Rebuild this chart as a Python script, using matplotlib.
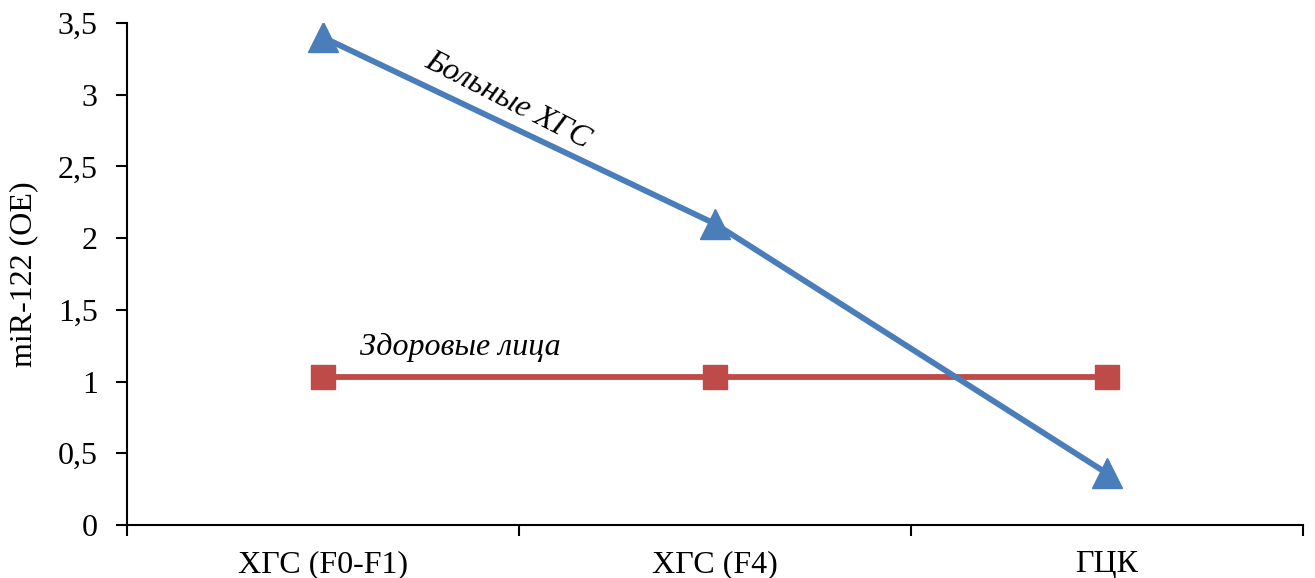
import matplotlib.pyplot as plt
import numpy as np

categories = ['ХГС (F0-F1)', 'ХГС (F4)', 'ГЦК']
patients = [3.4, 2.1, 0.36]
healthy = [1.03, 1.03, 1.03]
yticks = [0, 0.5, 1, 1.5, 2, 2.5, 3, 3.5]

plt.rcParams['font.family'] = ['Liberation Serif', 'DejaVu Serif']

fig = plt.figure(figsize=(13.15, 5.78), dpi=100)
ax = fig.add_axes([0.0966, 0.0917, 0.8943, 0.8685])

x = np.arange(len(categories))
ax.plot(x, healthy, color='#BE4B48', lw=4.2, marker='s', markersize=17, zorder=2)
ax.plot(x, patients, color='#4A7EBB', lw=4.2, marker='^', markersize=22, zorder=3)

ax.set_xlim(-0.5, 2.5)
ax.set_ylim(0, 3.5)
ax.set_yticks(yticks)
ax.set_yticklabels([str(v).replace('.', ',') if v % 1 else str(int(v)) for v in yticks])
ax.set_xticks(x)
ax.set_xticklabels(categories)
ax.set_xticks([-0.5, 0.5, 1.5, 2.5], minor=True)
ax.tick_params(axis='x', which='major', length=0, pad=18, labelsize=23)
ax.tick_params(axis='x', which='minor', length=8, width=1.5, direction='out')
ax.tick_params(axis='y', length=8, width=1.5, labelsize=23, pad=13)

for s in ['top', 'right']:
    ax.spines[s].set_visible(False)
for s in ['left', 'bottom']:
    ax.spines[s].set_linewidth(1.5)

ax.set_ylabel('miR-122 (OE)', fontsize=23, labelpad=14)

ax.text(0.47, 2.96, 'Больные ХГС', fontsize=23, style='italic', rotation=-27,
        ha='center', va='center', rotation_mode='anchor')
ax.text(0.35, 1.24, 'Здоровые лица', fontsize=23, style='italic',
        ha='center', va='center')

fig.savefig('out.png', dpi=100)
